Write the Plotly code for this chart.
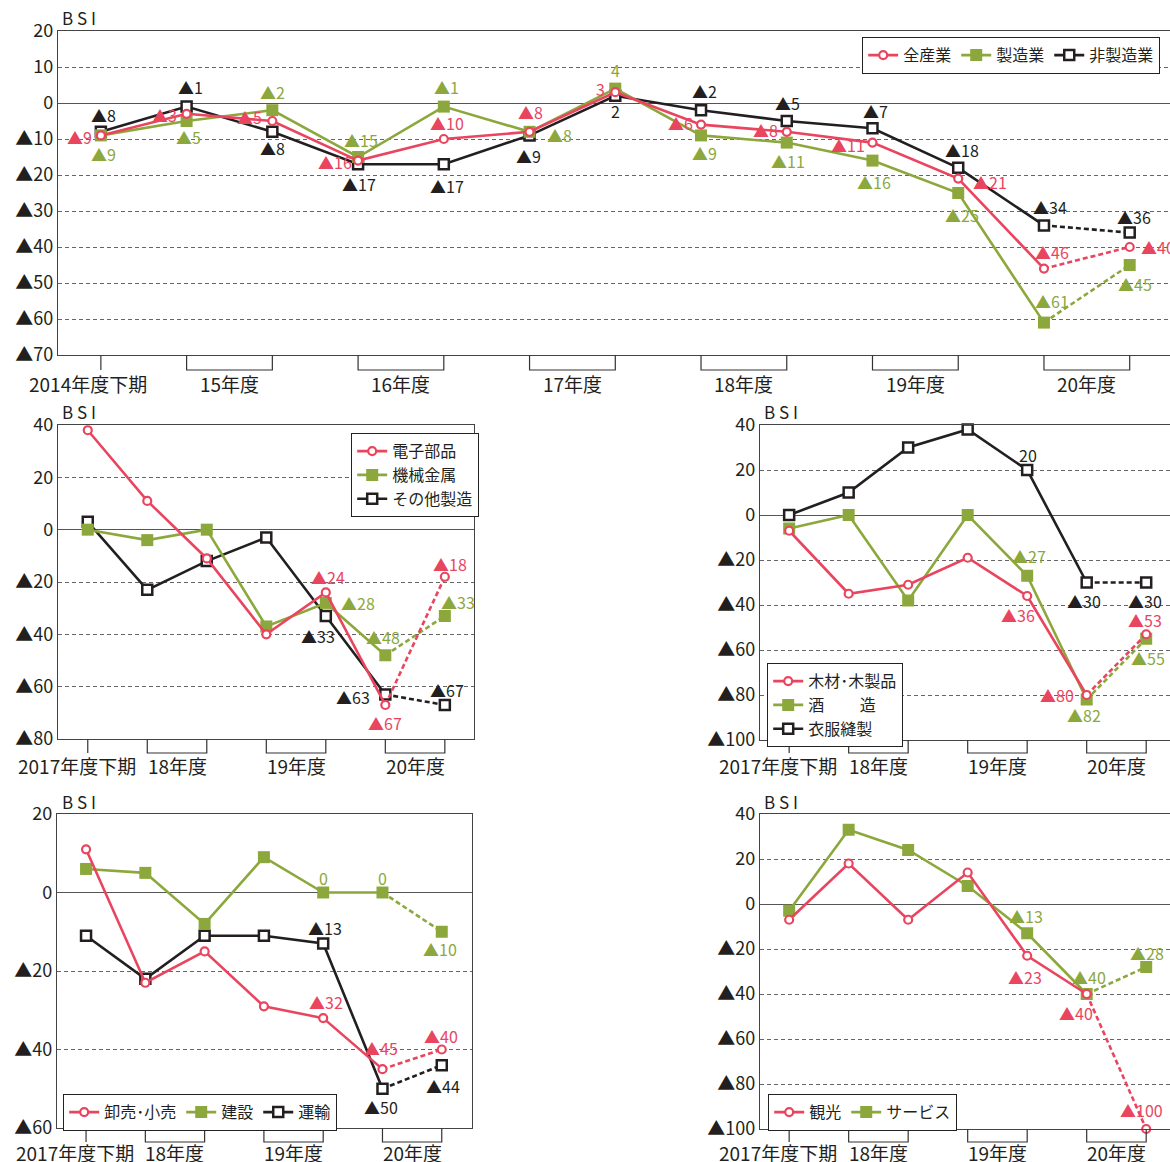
import plotly.graph_objects as go

W, H = 1170, 1162

# ---------------- data ----------------
top_periods = ["2014下", "15上", "15下", "16上", "16下", "17上", "17下",
               "18上", "18下", "19上", "19下", "20上", "20下"]
top_xlabels = ["2014年度下期", "15年度", "16年度", "17年度", "18年度", "19年度", "20年度"]
top_all = [-9, -3, -5, -16, -10, -8, 3, -6, -8, -11, -21, -46, -40]
top_mfg = [-9, -5, -2, -15, -1, -8, 4, -9, -11, -16, -25, -61, -45]
top_nonmfg = [-8, -1, -8, -17, -17, -9, 2, -2, -5, -7, -18, -34, -36]

sub_periods = ["2017下", "18上", "18下", "19上", "19下", "20上", "20下"]
sub_xlabels = ["2017年度下期", "18年度", "19年度", "20年度"]

elec = [38, 11, -11, -40, -24, -67, -18]
mach = [0, -4, 0, -37, -28, -48, -33]
othmfg = [3, -23, -12, -3, -33, -63, -67]

wood = [-7, -35, -31, -19, -36, -80, -53]
sake = [-6, 0, -38, 0, -27, -82, -55]
apparel = [0, 10, 30, 38, 20, -30, -30]

retail = [11, -23, -15, -29, -32, -45, -40]
constr = [6, 5, -8, 9, 0, 0, -10]
transp = [-11, -22, -11, -11, -13, -50, -44]

tourism = [-7, 18, -7, 14, -23, -40, -100]
service = [-3, 33, 24, 8, -13, -40, -28]

# ---------------- styles ----------------
RED = "#E9455F"
GREEN = "#8CA83C"
BLACK = "#231F20"
GRID = "#666666"
JP = "Noto Sans CJK JP, sans-serif"
NUM = "Liberation Sans Narrow, Noto Sans CJK JP, sans-serif"

STY = {
    "red": dict(color=RED, marker=dict(symbol="circle", size=8, color="white",
                                       line=dict(color=RED, width=2.2))),
    "green": dict(color=GREEN, marker=dict(symbol="square", size=12, color=GREEN,
                                           line=dict(color=GREEN, width=0))),
    "black": dict(color=BLACK, marker=dict(symbol="square", size=10, color="white",
                                           line=dict(color=BLACK, width=2.5))),
}


def fmt(v):
    return f"▲{-v}" if v < 0 else f"{v}"


def py(p):
    return 1 - p / H


fig = go.Figure()

panels = [
    dict(n="", xpx=(58, 1170), ypx=(31, 355), yr=(-70, 20), step=10, xr=(-0.5, 12.47),
         cats=top_periods, brackets=[(1, 2), (3, 4), (5, 6), (7, 8), (9, 10), (11, 12)],
         labels=top_xlabels, lab_y=383, br_bot=370, first_shift=-13, bsi=(60, 17)),
    dict(n="2", xpx=(58, 474), ypx=(425, 739), yr=(-80, 40), step=20, xr=(-0.5, 6.49),
         cats=sub_periods, brackets=[(1, 2), (3, 4), (5, 6)],
         labels=sub_xlabels, lab_y=765, br_bot=753, first_shift=-11, bsi=(60, 412)),
    dict(n="3", xpx=(760, 1170), ypx=(425, 740), yr=(-100, 40), step=20, xr=(-0.49, 6.4),
         cats=sub_periods, brackets=[(1, 2), (3, 4), (5, 6)],
         labels=sub_xlabels, lab_y=765, br_bot=753, first_shift=-11, bsi=(762, 412)),
    dict(n="4", xpx=(57, 472), ypx=(814, 1128), yr=(-60, 20), step=20, xr=(-0.49, 6.51),
         cats=sub_periods, brackets=[(1, 2), (3, 4), (5, 6)],
         labels=sub_xlabels, lab_y=1152, br_bot=1142, first_shift=-11, bsi=(60, 801)),
    dict(n="5", xpx=(760, 1170), ypx=(814, 1129), yr=(-100, 40), step=20, xr=(-0.49, 6.4),
         cats=sub_periods, brackets=[(1, 2), (3, 4), (5, 6)],
         labels=sub_xlabels, lab_y=1152, br_bot=1142, first_shift=-11, bsi=(762, 801)),
]

series = {
    "": [
        ("非製造業", top_nonmfg, "black", 3,
         {0: (3, -17), 1: (4, -20), 2: (0, 16), 3: (1, 20), 4: (3, 22), 5: (-1, 21), 6: (0, 15),
          7: (3, -19), 8: (1, -18), 9: (3, -17), 10: (4, -18), 11: (6, -18), 12: (4, -16)}),
        ("製造業", top_mfg, "green", 2,
         {0: (3, 19), 1: (2, 16), 2: (0, -18), 3: (3, -17), 4: (3, -20), 5: (30, 3), 6: (0, -19),
          7: (3, 18), 8: (1, 18), 9: (2, 21), 10: (4, 22), 11: (8, -22), 12: (5, 19)}),
        ("全産業", top_all, "red", 1,
         {0: (-21, 2), 1: (-22, 1), 2: (-23, -4), 3: (-23, 1), 4: (3, -16), 5: (1, -20), 6: (-15, -3),
          7: (-21, -2), 8: (-21, -2), 9: (-24, 2), 10: (32, 3), 11: (8, -17), 12: (28, 0)}),
    ],
    "2": [
        ("その他製造", othmfg, "black", 3, {4: (-8, 20), 5: (-32, 2), 6: (2, -15)}),
        ("機械金属", mach, "green", 2, {4: (32, 0), 5: (-2, -18), 6: (13, -14)}),
        ("電子部品", elec, "red", 1, {4: (2, -15), 5: (0, 18), 6: (5, -13)}),
    ],
    "3": [
        ("衣服縫製", apparel, "black", 3, {4: (1, -15), 5: (-3, 18), 6: (-1, 18)}),
        ("酒　　 造", sake, "green", 2, {4: (2, -20), 5: (-3, 15), 6: (2, 19)}),
        ("木材･木製品", wood, "red", 1, {4: (-9, 19), 5: (-30, 0), 6: (-1, -14)}),
    ],
    "4": [
        ("運輸", transp, "black", 3, {4: (2, -16), 5: (-1, 18), 6: (1, 21)}),
        ("建設", constr, "green", 2, {4: (0, -15), 5: (0, -15), 6: (-2, 17)}),
        ("卸売･小売", retail, "red", 1, {4: (3, -16), 5: (-1, -21), 6: (-1, -14)}),
    ],
    "5": [
        ("サービス", service, "green", 2, {4: (-1, -17), 5: (2, -17), 6: (1, -14)}),
        ("観光", tourism, "red", 1, {4: (-2, 21), 5: (-11, 19), 6: (-5, -19)}),
    ],
}

legend_ids = {"": "legend", "2": "legend2", "3": "legend3", "4": "legend4", "5": "legend5"}

annotations = []
shapes = []

for p in panels:
    n = p["n"]
    xa, ya = "x" + n, "y" + n
    cats = p["cats"]
    x0, x1 = p["xpx"]
    yt, yb = p["ypx"]
    ymin, ymax = p["yr"]
    tv = list(range(ymin, ymax + 1, p["step"]))
    fig.layout["xaxis" + n] = dict(
        domain=[x0 / W, x1 / W], anchor=ya, type="category",
        categoryorder="array", categoryarray=cats, range=list(p["xr"]),
        showticklabels=False, ticks="", showgrid=False, zeroline=False,
        showline=True, linecolor="#444", linewidth=1.3, mirror=True, fixedrange=True)
    fig.layout["yaxis" + n] = dict(
        domain=[py(yb), py(yt)], anchor=xa, range=[ymin, ymax], tickvals=tv,
        ticktext=[fmt(v) for v in tv], ticks="", showgrid=True, gridcolor=GRID,
        gridwidth=1, griddash="4px,3px", zeroline=True, zerolinecolor="#555",
        zerolinewidth=1.2, showline=True, linecolor="#444", linewidth=1.3, mirror=True,
        tickfont=dict(family=JP, size=18, color=BLACK), fixedrange=True)

    for name, vals, sk, rank, offs in series[n]:
        st = STY[sk]
        nlast = len(vals) - 1
        fig.add_trace(go.Scatter(
            x=cats[nlast - 1:], y=vals[nlast - 1:], mode="lines", xaxis=xa, yaxis=ya,
            line=dict(color=st["color"], width=2.6, dash="5px,3px"),
            showlegend=False, hoverinfo="skip", cliponaxis=False))
        fig.add_trace(go.Scatter(
            x=cats[:nlast], y=vals[:nlast], mode="lines+markers", xaxis=xa, yaxis=ya,
            name=name, legend=legend_ids[n], legendrank=rank,
            line=dict(color=st["color"], width=2.6), marker=st["marker"], cliponaxis=False))
        fig.add_trace(go.Scatter(
            x=cats[nlast:], y=vals[nlast:], mode="markers", xaxis=xa, yaxis=ya,
            marker=st["marker"], showlegend=False, cliponaxis=False))
        for i, (dx, dy) in offs.items():
            annotations.append(dict(
                x=i, y=vals[i], xref=xa, yref=ya, text=fmt(vals[i]), showarrow=False,
                xshift=dx, yshift=-dy, xanchor="center", yanchor="middle",
                font=dict(family=NUM, size=16, color=st["color"])))

    axis_y = py(yb)
    bot_y = py(p["br_bot"])
    shapes.append(dict(type="line", xref=xa, yref="paper", x0=0, x1=0, y0=axis_y, y1=bot_y,
                       line=dict(color="#333", width=1.2)))
    for (a, b) in p["brackets"]:
        shapes.append(dict(type="path", xref=xa, yref="paper",
                           path=f"M {a},{axis_y} L {a},{bot_y} L {b},{bot_y} L {b},{axis_y}",
                           line=dict(color="#333", width=1.2)))
    lab_pos = [0] + [(a + b) / 2 for (a, b) in p["brackets"]]
    for j, (pos, txt) in enumerate(zip(lab_pos, p["labels"])):
        annotations.append(dict(x=pos, y=py(p["lab_y"]), xref=xa, yref="paper", text=txt,
                                showarrow=False, xanchor="center", yanchor="middle",
                                xshift=p["first_shift"] if j == 0 else 0,
                                font=dict(family=JP, size=19, color=BLACK)))
    bx, by = p["bsi"]
    annotations.append(dict(x=bx / W, y=py(by), xref="paper", yref="paper", text="B S I",
                            showarrow=False, xanchor="left", yanchor="middle",
                            font=dict(family=JP, size=17, color=BLACK)))

leg_common = dict(bgcolor="white", bordercolor="#222", borderwidth=1.2,
                  font=dict(family=JP, size=16, color=BLACK), xanchor="left", yanchor="top",
                  itemclick=False, itemdoubleclick=False, tracegroupgap=0)

fig.update_layout(
    width=W, height=H, margin=dict(l=0, r=0, t=0, b=0, autoexpand=False),
    paper_bgcolor="white", plot_bgcolor="white",
    annotations=annotations, shapes=shapes,
    legend=dict(x=862 / W, y=py(37), orientation="h", **leg_common),
    legend2=dict(x=351 / W, y=py(433), orientation="v", **leg_common),
    legend3=dict(x=767 / W, y=py(663), orientation="v", **leg_common),
    legend4=dict(x=63 / W, y=py(1094), orientation="h", **leg_common),
    legend5=dict(x=768 / W, y=py(1094), orientation="h", **leg_common),
)

fig.write_html("out.html", config={"displayModeBar": False},
               post_script="document.body.style.margin='0';")
